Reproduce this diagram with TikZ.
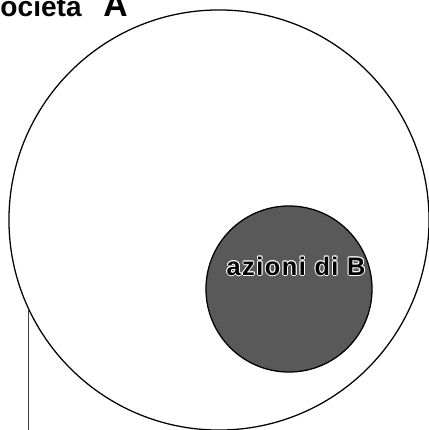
\documentclass[tikz,border=0pt]{standalone}
\usepackage{fontspec}
\setmainfont{Liberation Sans}
\newfontfamily\etichetta[LetterSpace=6]{Liberation Sans}
\begin{document}
\begin{tikzpicture}[x=0.025cm,y=-0.025cm]
    \useasboundingbox (0,0) rectangle (429,430);

    % Titre
    \node[anchor=base east,inner sep=0] (titolo) at (82,16) {\fontsize{20}{24}\selectfont\bfseries Società};
    \node[anchor=base west,inner sep=0] (lettera) at (103,16) {\fontsize{24}{28}\selectfont\bfseries A};

    % Cercles
    \node[circle,draw,line width=0.9pt,minimum size=10.5cm,inner sep=0,outer sep=0] (societa) at (219,220) {};
    \node[circle,draw,line width=0.9pt,fill=black!65,minimum size=4.15cm,inner sep=0,outer sep=0] (azioni) at (289,289) {};

    % Texte avec contour blanc
    \foreach \dx/\dy in {-1/0,1/0,0/-1,0/1,-0.7/-0.7,0.7/-0.7,-0.7/0.7,0.7/0.7} {
        \node[anchor=base,inner sep=0,white] at (296+\dx,275+\dy) {\fontsize{18}{22}\selectfont\etichetta\bfseries azioni di B};
    }
    \node[anchor=base,inner sep=0] (testo) at (296,275) {\fontsize{18}{22}\selectfont\etichetta\bfseries azioni di B};

    % Trait vertical
    \coordinate (piede) at (28,430);
    \draw[line width=0.6pt,black!75] (societa.205) -- (societa.205 |- piede);
\end{tikzpicture}
\end{document}
